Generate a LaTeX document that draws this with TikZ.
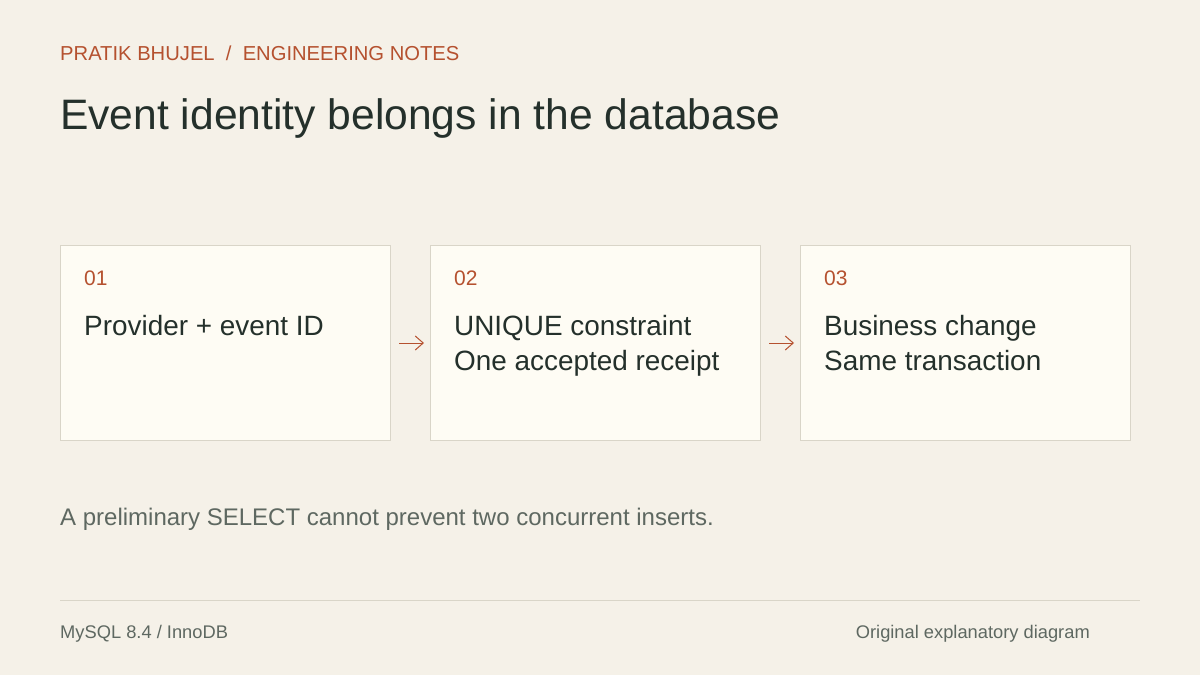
\documentclass[tikz,border=0pt]{standalone}
\usepackage{fontspec}
\setmainfont{Liberation Sans}
\usetikzlibrary{arrows.meta}

\definecolor{paper}{HTML}{F5F1E8}
\definecolor{cardfill}{HTML}{FEFCF4}
\definecolor{cardline}{HTML}{D9D5C8}
\definecolor{rust}{HTML}{B5512F}
\definecolor{ink}{HTML}{24302B}
\definecolor{muted}{HTML}{5E6861}

\tikzset{
  card/.style = {draw = cardline, fill = cardfill, line width = 1pt, inner sep = 0pt,
                 minimum width = 330pt, minimum height = 195pt, anchor = north west},
  stepno/.style = {anchor = base west, inner sep = 0pt, text = rust, font = \fontsize{21}{25}\selectfont},
  cardtext/.style = {anchor = base west, inner sep = 0pt, text = ink, font = \fontsize{27.9}{33}\selectfont},
  flow/.style = {draw = rust, line width = 1pt, -{Straight Barb[length = 8pt, width = 14pt]},
                 shorten <= 8pt, shorten >= 6pt},
}

\begin{document}
\begin{tikzpicture}[x = 1pt, y = -1pt]
\fill[paper] (0,0) rectangle (1200,675);
\useasboundingbox (0,0) rectangle (1200,675);

% heading
\node[anchor = base west, inner sep = 0pt, text = rust, font = \fontsize{20.2}{24}\selectfont] (kicker) at (60,60)
   {PRATIK BHUJEL\ \ /\ \ ENGINEERING NOTES};
\node[anchor = base west, inner sep = 0pt, text = ink, font = \fontsize{42.6}{50}\selectfont] (title) at (60,129)
   {Event identity belongs in the database};

% the three steps
\foreach \i/\x in {1/60, 2/430, 3/800}{
   \node[card] (card\i) at (\x,245) {};
   \node[stepno] (num\i) at (\x+24,285) {0\i};
   }

\node[cardtext] (text1a) at (84,335) {Provider + event ID};
\node[cardtext] (text2a) at (454,335) {UNIQUE constraint};
\node[cardtext] (text2b) at (454,370) {One accepted receipt};
\node[cardtext] (text3a) at (824,335) {Business change};
\node[cardtext] (text3b) at (824,370) {Same transaction};

\draw[flow] (card1.east) -- (card2.west);
\draw[flow] (card2.east) -- (card3.west);

% note and footer
\node[anchor = base west, inner sep = 0pt, text = muted, font = \fontsize{24}{28}\selectfont] (note) at (60,525)
   {A preliminary SELECT cannot prevent two concurrent inserts.};

\coordinate (ruleL) at (60,600);
\coordinate (ruleR) at (1140,600);
\draw[cardline, line width = 1pt] (ruleL) -- (ruleR);

\node[anchor = base west, inner sep = 0pt, text = muted, font = \fontsize{18.3}{22}\selectfont] (stack) at (60,638)
   {MySQL 8.4 / InnoDB};
\node[anchor = base east, inner sep = 0pt, text = muted, font = \fontsize{18.3}{22}\selectfont] (credit) at (1090,638)
   {Original explanatory diagram};
\end{tikzpicture}
\end{document}
